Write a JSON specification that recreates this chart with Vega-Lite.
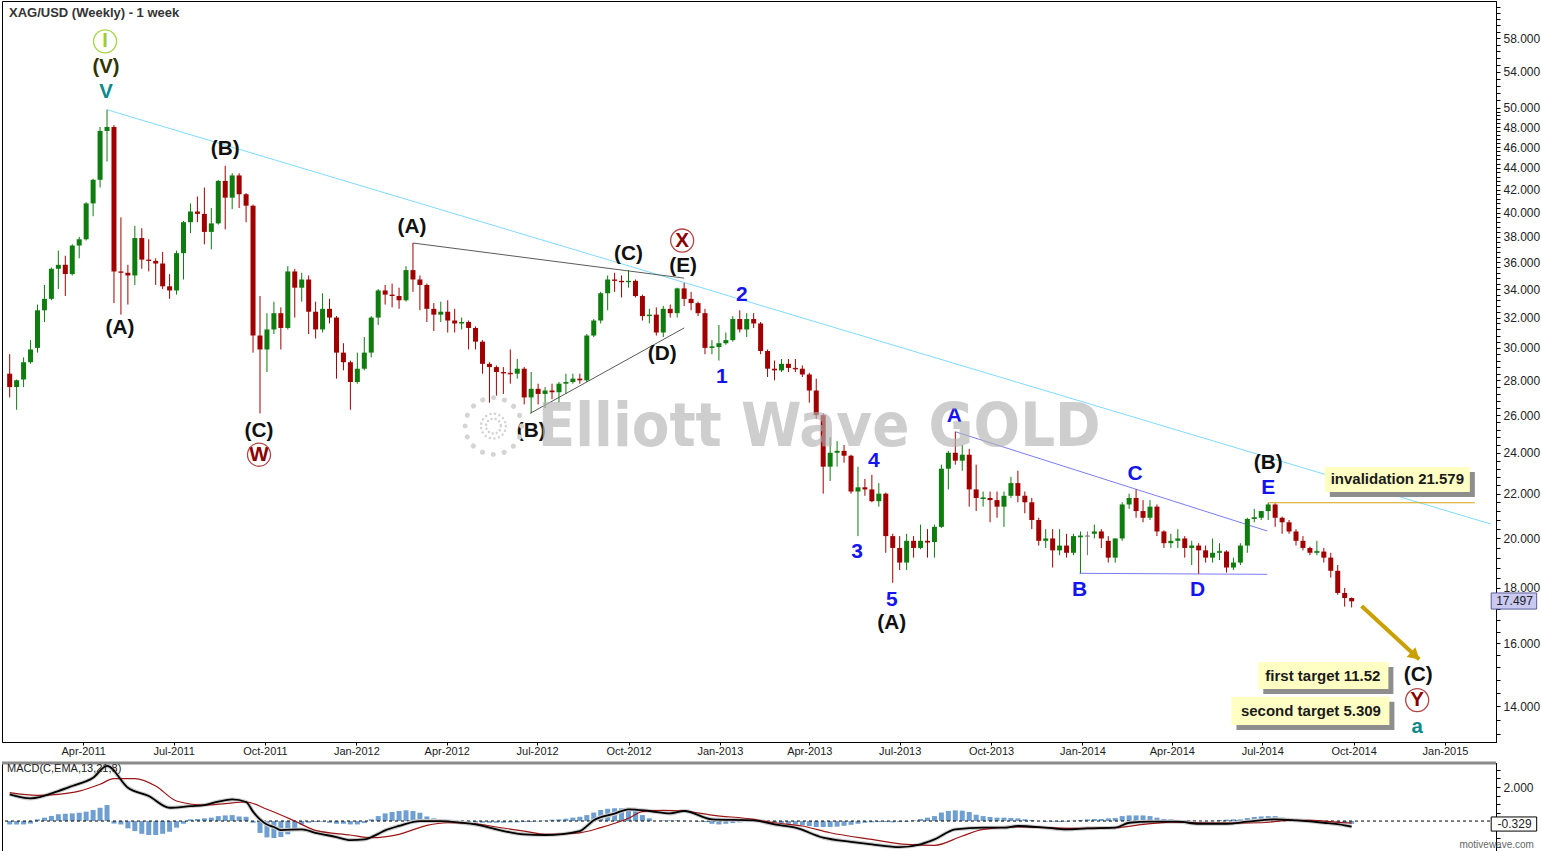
{
"$schema": "https://vega.github.io/schema/vega-lite/v6.json",
"padding": 0,
"background": "#ffffff",
"spacing": 0,
"config": {"view": {"stroke": "#000000", "strokeWidth": 1}, "font": "Liberation Sans", "axis": {"grid": false, "labelFont": "Liberation Sans", "domainColor": "#000000", "tickColor": "#000000"}},
"datasets": {
"candles": [
{"d":"2011-01-17","o":28.4,"h":29.6,"l":27.0,"c":27.6,"m":-0.2},
{"d":"2011-01-24","o":27.6,"h":28.05,"l":26.3,"c":28.0,"m":-0.2},
{"d":"2011-01-31","o":28.05,"h":29.4,"l":27.6,"c":29.1,"m":-0.2},
{"d":"2011-02-07","o":29.1,"h":30.5,"l":29.0,"c":29.9,"m":-0.15},
{"d":"2011-02-14","o":30.0,"h":32.9,"l":29.7,"c":32.5,"m":0.1},
{"d":"2011-02-21","o":32.5,"h":34.3,"l":31.7,"c":33.3,"m":0.2},
{"d":"2011-02-28","o":33.3,"h":35.6,"l":33.2,"c":35.5,"m":0.3},
{"d":"2011-03-07","o":35.5,"h":36.9,"l":34.0,"c":35.8,"m":0.4},
{"d":"2011-03-14","o":35.8,"h":36.5,"l":33.5,"c":35.1,"m":0.43},
{"d":"2011-03-21","o":35.1,"h":37.4,"l":35.0,"c":37.3,"m":0.45},
{"d":"2011-03-28","o":37.3,"h":38.0,"l":36.3,"c":37.8,"m":0.49},
{"d":"2011-04-04","o":37.8,"h":40.9,"l":37.7,"c":40.8,"m":0.55},
{"d":"2011-04-11","o":40.8,"h":43.0,"l":39.7,"c":42.9,"m":0.65},
{"d":"2011-04-18","o":42.9,"h":48.0,"l":42.2,"c":47.6,"m":0.78},
{"d":"2011-04-25","o":47.6,"h":49.8,"l":44.6,"c":48.0,"m":0.94},
{"d":"2011-05-02","o":48.0,"h":48.2,"l":33.0,"c":35.3,"m":-0.15},
{"d":"2011-05-09","o":35.3,"h":39.6,"l":32.2,"c":35.2,"m":-0.2},
{"d":"2011-05-16","o":35.2,"h":35.8,"l":32.9,"c":35.0,"m":-0.43},
{"d":"2011-05-23","o":35.0,"h":38.9,"l":34.3,"c":37.9,"m":-0.59},
{"d":"2011-05-30","o":37.9,"h":38.7,"l":35.5,"c":36.2,"m":-0.75},
{"d":"2011-06-06","o":36.2,"h":37.8,"l":35.3,"c":36.1,"m":-0.82},
{"d":"2011-06-13","o":36.1,"h":36.3,"l":34.3,"c":35.9,"m":-0.82},
{"d":"2011-06-20","o":35.9,"h":36.8,"l":34.0,"c":34.2,"m":-0.75},
{"d":"2011-06-27","o":34.2,"h":35.1,"l":33.3,"c":33.9,"m":-0.63},
{"d":"2011-07-04","o":33.9,"h":36.9,"l":33.6,"c":36.7,"m":-0.39},
{"d":"2011-07-11","o":36.7,"h":39.3,"l":34.7,"c":39.2,"m":-0.16},
{"d":"2011-07-18","o":39.2,"h":40.8,"l":38.3,"c":40.1,"m":0.1},
{"d":"2011-07-25","o":40.1,"h":41.4,"l":39.2,"c":39.9,"m":0.12},
{"d":"2011-08-01","o":39.9,"h":42.2,"l":37.4,"c":38.4,"m":0.16},
{"d":"2011-08-08","o":38.4,"h":40.4,"l":37.0,"c":39.1,"m":0.2},
{"d":"2011-08-15","o":39.1,"h":42.9,"l":39.0,"c":42.8,"m":0.29},
{"d":"2011-08-22","o":42.8,"h":44.2,"l":38.6,"c":41.3,"m":0.33},
{"d":"2011-08-29","o":41.3,"h":43.5,"l":40.3,"c":43.3,"m":0.35},
{"d":"2011-09-05","o":43.3,"h":43.5,"l":40.4,"c":41.6,"m":0.27},
{"d":"2011-09-12","o":41.6,"h":41.7,"l":39.2,"c":40.6,"m":0.25},
{"d":"2011-09-19","o":40.6,"h":40.7,"l":29.7,"c":30.8,"m":-0.1},
{"d":"2011-09-26","o":30.8,"h":33.5,"l":26.1,"c":29.9,"m":-0.7},
{"d":"2011-10-03","o":29.9,"h":32.3,"l":28.5,"c":31.2,"m":-0.96},
{"d":"2011-10-10","o":31.2,"h":33.1,"l":30.9,"c":32.3,"m":-1.0},
{"d":"2011-10-17","o":32.3,"h":32.7,"l":29.9,"c":31.3,"m":-0.94},
{"d":"2011-10-24","o":31.3,"h":35.7,"l":31.2,"c":35.3,"m":-0.78},
{"d":"2011-10-31","o":35.3,"h":35.5,"l":32.0,"c":34.1,"m":-0.49},
{"d":"2011-11-07","o":34.1,"h":35.2,"l":33.1,"c":34.7,"m":-0.2},
{"d":"2011-11-14","o":34.7,"h":35.0,"l":30.9,"c":32.4,"m":-0.1},
{"d":"2011-11-21","o":32.4,"h":33.1,"l":30.6,"c":31.2,"m":-0.06},
{"d":"2011-11-28","o":31.2,"h":33.7,"l":31.0,"c":32.6,"m":-0.04},
{"d":"2011-12-05","o":32.6,"h":33.3,"l":31.6,"c":32.0,"m":-0.1},
{"d":"2011-12-12","o":32.0,"h":32.1,"l":28.1,"c":29.7,"m":-0.16},
{"d":"2011-12-19","o":29.7,"h":30.3,"l":28.6,"c":29.1,"m":-0.16},
{"d":"2011-12-26","o":29.1,"h":29.2,"l":26.3,"c":27.9,"m":-0.2},
{"d":"2012-01-02","o":27.9,"h":29.7,"l":27.8,"c":28.7,"m":-0.2},
{"d":"2012-01-09","o":28.7,"h":30.7,"l":28.6,"c":29.7,"m":-0.12},
{"d":"2012-01-16","o":29.7,"h":32.1,"l":29.4,"c":32.0,"m":0.1},
{"d":"2012-01-23","o":32.0,"h":34.0,"l":31.5,"c":33.9,"m":0.29},
{"d":"2012-01-30","o":33.9,"h":34.3,"l":32.9,"c":33.6,"m":0.45},
{"d":"2012-02-06","o":33.6,"h":34.4,"l":32.7,"c":33.5,"m":0.53},
{"d":"2012-02-13","o":33.5,"h":34.1,"l":32.6,"c":33.2,"m":0.59},
{"d":"2012-02-20","o":33.2,"h":35.7,"l":33.1,"c":35.4,"m":0.63},
{"d":"2012-02-27","o":35.4,"h":37.5,"l":33.8,"c":34.7,"m":0.59},
{"d":"2012-03-05","o":34.7,"h":35.0,"l":32.5,"c":34.3,"m":0.49},
{"d":"2012-03-12","o":34.3,"h":34.4,"l":31.7,"c":32.6,"m":0.27},
{"d":"2012-03-19","o":32.6,"h":33.0,"l":31.1,"c":32.2,"m":0.16},
{"d":"2012-03-26","o":32.2,"h":33.1,"l":31.7,"c":32.4,"m":0.06},
{"d":"2012-04-02","o":32.4,"h":33.2,"l":31.0,"c":31.8,"m":-0.04},
{"d":"2012-04-09","o":31.8,"h":32.6,"l":31.0,"c":31.6,"m":-0.06},
{"d":"2012-04-16","o":31.6,"h":32.0,"l":31.2,"c":31.7,"m":-0.08},
{"d":"2012-04-23","o":31.7,"h":31.8,"l":29.9,"c":31.3,"m":-0.1},
{"d":"2012-04-30","o":31.3,"h":31.4,"l":29.9,"c":30.4,"m":-0.1},
{"d":"2012-05-07","o":30.4,"h":30.5,"l":28.4,"c":29.0,"m":-0.1},
{"d":"2012-05-14","o":29.0,"h":29.1,"l":26.7,"c":28.8,"m":-0.1},
{"d":"2012-05-21","o":28.8,"h":28.9,"l":27.1,"c":28.5,"m":-0.1},
{"d":"2012-05-28","o":28.5,"h":28.8,"l":27.2,"c":28.45,"m":-0.1},
{"d":"2012-06-04","o":28.45,"h":29.9,"l":27.8,"c":28.4,"m":-0.08},
{"d":"2012-06-11","o":28.4,"h":29.3,"l":28.1,"c":28.7,"m":-0.08},
{"d":"2012-06-18","o":28.7,"h":28.8,"l":26.6,"c":27.0,"m":-0.06},
{"d":"2012-06-25","o":27.0,"h":28.5,"l":26.1,"c":27.5,"m":-0.06},
{"d":"2012-07-02","o":27.5,"h":27.8,"l":26.6,"c":27.2,"m":-0.02},
{"d":"2012-07-09","o":27.2,"h":27.6,"l":26.4,"c":27.4,"m":0.02},
{"d":"2012-07-16","o":27.4,"h":27.8,"l":26.9,"c":27.3,"m":0.08},
{"d":"2012-07-23","o":27.3,"h":27.9,"l":26.7,"c":27.8,"m":0.1},
{"d":"2012-07-30","o":27.8,"h":28.4,"l":27.2,"c":27.9,"m":0.14},
{"d":"2012-08-06","o":27.9,"h":28.4,"l":27.8,"c":28.1,"m":0.2},
{"d":"2012-08-13","o":28.1,"h":28.4,"l":27.8,"c":28.0,"m":0.25},
{"d":"2012-08-20","o":28.0,"h":30.9,"l":27.9,"c":30.8,"m":0.35},
{"d":"2012-08-27","o":30.8,"h":31.9,"l":30.7,"c":31.8,"m":0.5},
{"d":"2012-09-03","o":31.8,"h":33.8,"l":31.6,"c":33.7,"m":0.65},
{"d":"2012-09-10","o":33.7,"h":35.0,"l":32.5,"c":34.7,"m":0.72},
{"d":"2012-09-17","o":34.7,"h":35.2,"l":33.8,"c":34.6,"m":0.75},
{"d":"2012-09-24","o":34.6,"h":35.0,"l":33.4,"c":34.5,"m":0.75},
{"d":"2012-10-01","o":34.5,"h":35.4,"l":34.1,"c":34.6,"m":0.72},
{"d":"2012-10-08","o":34.6,"h":34.7,"l":33.4,"c":33.5,"m":0.6},
{"d":"2012-10-15","o":33.5,"h":33.6,"l":31.8,"c":32.1,"m":0.35},
{"d":"2012-10-22","o":32.1,"h":32.6,"l":31.6,"c":32.2,"m":0.16},
{"d":"2012-10-29","o":32.2,"h":32.7,"l":30.8,"c":31.0,"m":0.0},
{"d":"2012-11-05","o":31.0,"h":32.8,"l":30.7,"c":32.6,"m":0.04},
{"d":"2012-11-12","o":32.6,"h":32.9,"l":32.0,"c":32.3,"m":0.04},
{"d":"2012-11-19","o":32.3,"h":34.1,"l":32.0,"c":34.05,"m":0.04},
{"d":"2012-11-26","o":34.05,"h":34.45,"l":32.8,"c":33.3,"m":0.02},
{"d":"2012-12-03","o":33.3,"h":33.8,"l":32.5,"c":33.0,"m":0.0},
{"d":"2012-12-10","o":33.0,"h":33.1,"l":32.1,"c":32.3,"m":-0.04},
{"d":"2012-12-17","o":32.3,"h":32.6,"l":29.6,"c":30.0,"m":-0.06},
{"d":"2012-12-24","o":30.0,"h":30.5,"l":29.6,"c":30.1,"m":-0.16},
{"d":"2012-12-31","o":30.05,"h":31.5,"l":29.2,"c":30.3,"m":-0.2},
{"d":"2013-01-07","o":30.3,"h":31.0,"l":30.2,"c":30.5,"m":-0.16},
{"d":"2013-01-14","o":30.5,"h":32.1,"l":30.4,"c":31.9,"m":-0.12},
{"d":"2013-01-21","o":31.9,"h":32.5,"l":31.0,"c":31.2,"m":-0.08},
{"d":"2013-01-28","o":31.2,"h":32.3,"l":30.7,"c":31.9,"m":-0.06},
{"d":"2013-02-04","o":31.9,"h":32.3,"l":31.3,"c":31.6,"m":-0.04},
{"d":"2013-02-11","o":31.6,"h":31.7,"l":29.6,"c":29.8,"m":-0.04},
{"d":"2013-02-18","o":29.8,"h":29.9,"l":28.2,"c":28.7,"m":-0.06},
{"d":"2013-02-25","o":28.7,"h":29.2,"l":28.0,"c":28.6,"m":-0.1},
{"d":"2013-03-04","o":28.6,"h":29.3,"l":28.5,"c":29.0,"m":-0.12},
{"d":"2013-03-11","o":29.0,"h":29.3,"l":28.5,"c":28.75,"m":-0.16},
{"d":"2013-03-18","o":28.75,"h":29.3,"l":28.5,"c":28.7,"m":-0.2},
{"d":"2013-03-25","o":28.7,"h":28.9,"l":28.2,"c":28.35,"m":-0.25},
{"d":"2013-04-01","o":28.35,"h":28.45,"l":26.7,"c":27.4,"m":-0.3},
{"d":"2013-04-08","o":27.4,"h":28.1,"l":25.8,"c":26.0,"m":-0.35},
{"d":"2013-04-15","o":26.0,"h":26.1,"l":22.0,"c":23.3,"m":-0.35},
{"d":"2013-04-22","o":23.3,"h":24.8,"l":22.6,"c":24.0,"m":-0.35},
{"d":"2013-04-29","o":24.0,"h":24.6,"l":23.3,"c":24.1,"m":-0.33},
{"d":"2013-05-06","o":24.1,"h":24.4,"l":23.5,"c":23.85,"m":-0.28},
{"d":"2013-05-13","o":23.85,"h":23.9,"l":22.0,"c":22.1,"m":-0.22},
{"d":"2013-05-20","o":22.1,"h":23.3,"l":20.1,"c":22.3,"m":-0.16},
{"d":"2013-05-27","o":22.3,"h":22.7,"l":21.9,"c":22.2,"m":-0.1},
{"d":"2013-06-03","o":22.2,"h":22.9,"l":21.6,"c":21.65,"m":-0.08},
{"d":"2013-06-10","o":21.65,"h":22.5,"l":21.4,"c":22.0,"m":-0.06},
{"d":"2013-06-17","o":22.0,"h":22.05,"l":19.4,"c":20.1,"m":-0.06},
{"d":"2013-06-24","o":20.1,"h":20.2,"l":18.2,"c":19.6,"m":-0.08},
{"d":"2013-07-01","o":19.6,"h":20.1,"l":18.7,"c":19.0,"m":-0.06},
{"d":"2013-07-08","o":19.0,"h":20.2,"l":18.7,"c":19.9,"m":-0.04},
{"d":"2013-07-15","o":19.9,"h":20.1,"l":19.2,"c":19.6,"m":0.04},
{"d":"2013-07-22","o":19.6,"h":20.6,"l":19.55,"c":19.9,"m":0.12},
{"d":"2013-07-29","o":19.9,"h":20.4,"l":19.2,"c":19.85,"m":0.2},
{"d":"2013-08-05","o":19.85,"h":20.6,"l":19.2,"c":20.5,"m":0.29},
{"d":"2013-08-12","o":20.5,"h":23.4,"l":20.45,"c":23.2,"m":0.5},
{"d":"2013-08-19","o":23.2,"h":24.1,"l":22.2,"c":24.0,"m":0.59},
{"d":"2013-08-26","o":24.0,"h":25.1,"l":23.4,"c":23.6,"m":0.63},
{"d":"2013-09-02","o":23.6,"h":24.4,"l":23.1,"c":23.9,"m":0.61},
{"d":"2013-09-09","o":23.9,"h":24.2,"l":21.4,"c":22.2,"m":0.53},
{"d":"2013-09-16","o":22.2,"h":23.4,"l":21.2,"c":21.8,"m":0.37},
{"d":"2013-09-23","o":21.75,"h":22.1,"l":21.4,"c":21.8,"m":0.29},
{"d":"2013-09-30","o":21.8,"h":22.1,"l":20.7,"c":21.7,"m":0.24},
{"d":"2013-10-07","o":21.7,"h":22.1,"l":20.9,"c":21.4,"m":0.2},
{"d":"2013-10-14","o":21.4,"h":22.1,"l":20.5,"c":21.9,"m":0.2},
{"d":"2013-10-21","o":21.9,"h":22.8,"l":21.8,"c":22.5,"m":0.18},
{"d":"2013-10-28","o":22.5,"h":23.1,"l":21.6,"c":21.9,"m":0.16},
{"d":"2013-11-04","o":21.9,"h":22.1,"l":21.1,"c":21.6,"m":0.1},
{"d":"2013-11-11","o":21.6,"h":21.8,"l":20.4,"c":20.8,"m":0.06},
{"d":"2013-11-18","o":20.8,"h":20.9,"l":19.7,"c":19.9,"m":0.0},
{"d":"2013-11-25","o":19.9,"h":20.4,"l":19.6,"c":20.0,"m":-0.04},
{"d":"2013-12-02","o":20.0,"h":20.4,"l":18.8,"c":19.5,"m":-0.04},
{"d":"2013-12-09","o":19.5,"h":20.4,"l":19.3,"c":19.7,"m":-0.06},
{"d":"2013-12-16","o":19.7,"h":20.2,"l":19.2,"c":19.4,"m":-0.04},
{"d":"2013-12-23","o":19.4,"h":20.2,"l":19.3,"c":20.1,"m":0.02},
{"d":"2013-12-30","o":20.05,"h":20.3,"l":18.57,"c":20.1,"m":0.06},
{"d":"2014-01-06","o":20.1,"h":20.3,"l":19.3,"c":20.1,"m":0.1},
{"d":"2014-01-13","o":20.2,"h":20.6,"l":20.0,"c":20.3,"m":0.12},
{"d":"2014-01-20","o":20.3,"h":20.4,"l":19.6,"c":20.0,"m":0.12},
{"d":"2014-01-27","o":19.9,"h":20.1,"l":19.0,"c":19.2,"m":0.16},
{"d":"2014-02-03","o":19.2,"h":20.0,"l":19.0,"c":20.0,"m":0.18},
{"d":"2014-02-10","o":20.0,"h":21.6,"l":19.9,"c":21.5,"m":0.29},
{"d":"2014-02-17","o":21.5,"h":22.0,"l":21.3,"c":21.8,"m":0.33},
{"d":"2014-02-24","o":21.8,"h":22.2,"l":20.9,"c":21.2,"m":0.33},
{"d":"2014-03-03","o":21.2,"h":21.7,"l":20.7,"c":20.9,"m":0.33},
{"d":"2014-03-10","o":20.9,"h":21.7,"l":20.8,"c":21.4,"m":0.29},
{"d":"2014-03-17","o":21.4,"h":21.5,"l":20.1,"c":20.3,"m":0.2},
{"d":"2014-03-24","o":20.3,"h":20.35,"l":19.6,"c":19.8,"m":0.12},
{"d":"2014-03-31","o":19.8,"h":20.2,"l":19.6,"c":19.9,"m":0.1},
{"d":"2014-04-07","o":19.9,"h":20.4,"l":19.6,"c":20.0,"m":0.06},
{"d":"2014-04-14","o":20.0,"h":20.1,"l":19.2,"c":19.6,"m":0.04},
{"d":"2014-04-21","o":19.6,"h":19.9,"l":18.9,"c":19.7,"m":0.02},
{"d":"2014-04-28","o":19.7,"h":19.8,"l":18.55,"c":19.5,"m":0.0},
{"d":"2014-05-05","o":19.5,"h":19.7,"l":19.0,"c":19.2,"m":-0.02},
{"d":"2014-05-12","o":19.2,"h":20.0,"l":19.0,"c":19.4,"m":0.02},
{"d":"2014-05-19","o":19.4,"h":19.8,"l":19.1,"c":19.45,"m":0.06},
{"d":"2014-05-26","o":19.45,"h":19.5,"l":18.6,"c":18.8,"m":0.08},
{"d":"2014-06-02","o":18.8,"h":19.2,"l":18.7,"c":19.0,"m":0.1},
{"d":"2014-06-09","o":19.0,"h":19.8,"l":18.9,"c":19.7,"m":0.1},
{"d":"2014-06-16","o":19.7,"h":20.9,"l":19.4,"c":20.85,"m":0.18},
{"d":"2014-06-23","o":20.85,"h":21.3,"l":20.7,"c":20.9,"m":0.24},
{"d":"2014-06-30","o":20.9,"h":21.2,"l":20.8,"c":21.2,"m":0.27},
{"d":"2014-07-07","o":21.2,"h":21.579,"l":20.8,"c":21.5,"m":0.29},
{"d":"2014-07-14","o":21.5,"h":21.55,"l":20.5,"c":20.9,"m":0.29},
{"d":"2014-07-21","o":20.9,"h":20.95,"l":20.2,"c":20.7,"m":0.2},
{"d":"2014-07-28","o":20.7,"h":20.8,"l":20.2,"c":20.3,"m":0.14},
{"d":"2014-08-04","o":20.3,"h":20.4,"l":19.7,"c":19.9,"m":0.1},
{"d":"2014-08-11","o":19.9,"h":20.1,"l":19.5,"c":19.6,"m":0.06},
{"d":"2014-08-18","o":19.6,"h":19.65,"l":19.3,"c":19.4,"m":0.04},
{"d":"2014-08-25","o":19.4,"h":19.9,"l":19.3,"c":19.45,"m":0.02},
{"d":"2014-09-01","o":19.45,"h":19.6,"l":19.0,"c":19.2,"m":0.0},
{"d":"2014-09-08","o":19.2,"h":19.4,"l":18.4,"c":18.67,"m":-0.04},
{"d":"2014-09-15","o":18.67,"h":18.9,"l":17.74,"c":17.81,"m":-0.1},
{"d":"2014-09-22","o":17.81,"h":18.0,"l":17.3,"c":17.62,"m":-0.14},
{"d":"2014-09-29","o":17.62,"h":17.64,"l":17.27,"c":17.497,"m":-0.16}
],
"labels": [
{"d":"2011-04-23","p":57.6,"t":"I","deg":"grand"},
{"d":"2011-04-24","p":54.5,"t":"(V)","deg":"super"},
{"d":"2011-04-24","p":51.7,"t":"V","deg":"cycle"},
{"d":"2011-08-22","p":45.8,"t":"(B)","deg":"intermediate"},
{"d":"2011-05-08","p":31.3,"t":"(A)","deg":"intermediate"},
{"d":"2011-09-25","p":25.14,"t":"(C)","deg":"intermediate"},
{"d":"2011-09-25","p":23.9,"t":"W","deg":"primary"},
{"d":"2012-02-26","p":38.8,"t":"(A)","deg":"intermediate"},
{"d":"2012-10-01","p":36.6,"t":"(C)","deg":"intermediate"},
{"d":"2012-11-24","p":37.7,"t":"X","deg":"primary"},
{"d":"2012-11-25","p":35.7,"t":"(E)","deg":"intermediate"},
{"d":"2012-11-04","p":29.6,"t":"(D)","deg":"intermediate"},
{"d":"2012-06-25","p":25.14,"t":"(B)","deg":"intermediate"},
{"d":"2013-01-23","p":33.6,"t":"2","deg":"minor"},
{"d":"2013-01-03","p":28.2,"t":"1","deg":"minor"},
{"d":"2013-06-05","p":23.6,"t":"4","deg":"minor"},
{"d":"2013-05-19","p":19.43,"t":"3","deg":"minor"},
{"d":"2013-06-23","p":17.55,"t":"5","deg":"minor"},
{"d":"2013-06-23","p":16.7,"t":"(A)","deg":"intermediate"},
{"d":"2013-08-25","p":25.95,"t":"A","deg":"minor"},
{"d":"2013-12-29","p":17.92,"t":"B","deg":"minor"},
{"d":"2014-02-23","p":22.94,"t":"C","deg":"minor"},
{"d":"2014-04-27","p":17.92,"t":"D","deg":"minor"},
{"d":"2014-07-07","p":23.49,"t":"(B)","deg":"intermediate"},
{"d":"2014-07-07","p":22.27,"t":"E","deg":"minor"},
{"d":"2014-12-05","p":14.96,"t":"(C)","deg":"intermediate"},
{"d":"2014-12-04","p":14.18,"t":"Y","deg":"primary"},
{"d":"2014-12-04","p":13.39,"t":"a","deg":"cycle"}
],
"segs": [
{"d1":"2011-04-25","p1":49.8,"d2":"2015-02-16T07:00:00Z","p2":20.62,"k":"trend"},
{"d1":"2012-02-27","p1":37.5,"d2":"2012-11-26","p2":34.8,"k":"tri"},
{"d1":"2012-06-24","p1":26.1,"d2":"2012-11-26","p2":31.3,"k":"tri"},
{"d1":"2013-08-26","p1":25.1,"d2":"2014-07-06","p2":20.32,"k":"minor"},
{"d1":"2013-12-29","p1":18.57,"d2":"2014-07-06","p2":18.53,"k":"minor"},
{"d1":"2014-07-07","p1":21.579,"d2":"2015-01-31","p2":21.579,"k":"inval"}
],
"arrow": [{"d1":"2014-10-09","p1":17.32,"d2":"2014-12-06","p2":15.47,"hd":"2014-12-02","hp":15.58}],
"boxes": [
{"d1":"2014-09-02","d2":"2015-01-26","p1":23.29,"p2":22.08,"t":"invalidation 21.579","td":"2014-11-14","tp":22.7},
{"d1":"2014-06-27","d2":"2014-11-05","p1":15.38,"p2":14.52,"t":"first target 11.52","td":"2014-08-31","tp":14.93},
{"d1":"2014-05-31","d2":"2014-11-06","p1":14.28,"p2":13.45,"t":"second target 5.309","td":"2014-08-19","tp":13.86}
],
"ptag": [{"d1":"2015-02-16T12:00:00Z","d2":"2015-04-03T07:00:00Z","p1":17.81,"p2":17.21,"td":"2015-03-12","tp":17.497,"t":"17.497"}],
"wm": [{"d":"2013-04-11","p":25.3,"t":"Elliott Wave GOLD"}],
"logo": [{"d":"2012-05-18","p":25.4}],
"macd": [
{"d":"2011-01-17","v":1.57,"s":"m"},{"d":"2011-02-07","v":1.33,"s":"m"},{"d":"2011-03-07","v":1.76,"s":"m"},{"d":"2011-03-21","v":2.06,"s":"m"},{"d":"2011-04-11","v":2.55,"s":"m"},{"d":"2011-04-25","v":3.24,"s":"m"},{"d":"2011-05-16","v":1.96,"s":"m"},{"d":"2011-06-06","v":1.47,"s":"m"},{"d":"2011-06-27","v":0.78,"s":"m"},{"d":"2011-07-18","v":0.88,"s":"m"},{"d":"2011-08-01","v":0.94,"s":"m"},{"d":"2011-08-15","v":1.14,"s":"m"},{"d":"2011-08-29","v":1.27,"s":"m"},{"d":"2011-09-12","v":1.12,"s":"m"},{"d":"2011-09-19","v":0.55,"s":"m"},{"d":"2011-09-26","v":0.1,"s":"m"},{"d":"2011-10-03","v":-0.2,"s":"m"},{"d":"2011-10-10","v":-0.35,"s":"m"},{"d":"2011-10-17","v":-0.53,"s":"m"},{"d":"2011-11-07","v":-0.49,"s":"m"},{"d":"2011-11-21","v":-0.69,"s":"m"},{"d":"2011-12-12","v":-0.94,"s":"m"},{"d":"2011-12-26","v":-1.12,"s":"m"},{"d":"2012-01-09","v":-1.08,"s":"m"},{"d":"2012-01-23","v":-0.75,"s":"m"},{"d":"2012-01-30","v":-0.55,"s":"m"},{"d":"2012-02-13","v":-0.29,"s":"m"},{"d":"2012-03-05","v":0.0,"s":"m"},{"d":"2012-03-26","v":0.0,"s":"m"},{"d":"2012-04-16","v":-0.1,"s":"m"},{"d":"2012-04-30","v":-0.2,"s":"m"},{"d":"2012-05-21","v":-0.49,"s":"m"},{"d":"2012-06-18","v":-0.78,"s":"m"},{"d":"2012-07-09","v":-0.82,"s":"m"},{"d":"2012-08-13","v":-0.59,"s":"m"},{"d":"2012-08-20","v":-0.3,"s":"m"},{"d":"2012-08-27","v":0.04,"s":"m"},{"d":"2012-09-17","v":0.43,"s":"m"},{"d":"2012-10-01","v":0.69,"s":"m"},{"d":"2012-10-22","v":0.59,"s":"m"},{"d":"2012-11-12","v":0.45,"s":"m"},{"d":"2012-11-26","v":0.59,"s":"m"},{"d":"2012-12-24","v":0.1,"s":"m"},{"d":"2013-02-04","v":0.04,"s":"m"},{"d":"2013-02-25","v":-0.2,"s":"m"},{"d":"2013-03-18","v":-0.39,"s":"m"},{"d":"2013-04-15","v":-0.98,"s":"m"},{"d":"2013-05-13","v":-1.22,"s":"m"},{"d":"2013-06-03","v":-1.37,"s":"m"},{"d":"2013-07-01","v":-1.53,"s":"m"},{"d":"2013-07-22","v":-1.37,"s":"m"},{"d":"2013-08-05","v":-1.08,"s":"m"},{"d":"2013-08-26","v":-0.49,"s":"m"},{"d":"2013-09-23","v":-0.39,"s":"m"},{"d":"2013-10-14","v":-0.39,"s":"m"},{"d":"2013-10-28","v":-0.29,"s":"m"},{"d":"2013-11-25","v":-0.39,"s":"m"},{"d":"2013-12-16","v":-0.49,"s":"m"},{"d":"2014-01-06","v":-0.43,"s":"m"},{"d":"2014-02-03","v":-0.39,"s":"m"},{"d":"2014-02-17","v":-0.1,"s":"m"},{"d":"2014-03-10","v":-0.04,"s":"m"},{"d":"2014-04-07","v":-0.04,"s":"m"},{"d":"2014-04-28","v":-0.16,"s":"m"},{"d":"2014-05-26","v":-0.16,"s":"m"},{"d":"2014-06-16","v":-0.04,"s":"m"},{"d":"2014-07-14","v":0.1,"s":"m"},{"d":"2014-08-04","v":0.04,"s":"m"},{"d":"2014-09-01","v":-0.1,"s":"m"},{"d":"2014-09-22","v":-0.25,"s":"m"},{"d":"2014-09-29","v":-0.33,"s":"m"},
{"d":"2011-01-17","v":1.67,"s":"s"},{"d":"2011-02-14","v":1.51,"s":"s"},{"d":"2011-03-07","v":1.57,"s":"s"},{"d":"2011-03-28","v":1.76,"s":"s"},{"d":"2011-04-18","v":2.16,"s":"s"},{"d":"2011-05-02","v":2.49,"s":"s"},{"d":"2011-05-23","v":2.49,"s":"s"},{"d":"2011-06-13","v":2.06,"s":"s"},{"d":"2011-07-04","v":1.18,"s":"s"},{"d":"2011-08-01","v":0.94,"s":"s"},{"d":"2011-08-22","v":1.02,"s":"s"},{"d":"2011-09-12","v":1.12,"s":"s"},{"d":"2011-10-03","v":0.69,"s":"s"},{"d":"2011-10-31","v":0.0,"s":"s"},{"d":"2011-11-21","v":-0.55,"s":"s"},{"d":"2011-12-26","v":-0.82,"s":"s"},{"d":"2012-01-16","v":-0.98,"s":"s"},{"d":"2012-02-13","v":-0.78,"s":"s"},{"d":"2012-03-12","v":-0.25,"s":"s"},{"d":"2012-04-02","v":-0.1,"s":"s"},{"d":"2012-04-30","v":-0.16,"s":"s"},{"d":"2012-05-21","v":-0.35,"s":"s"},{"d":"2012-06-18","v":-0.59,"s":"s"},{"d":"2012-07-09","v":-0.78,"s":"s"},{"d":"2012-08-13","v":-0.69,"s":"s"},{"d":"2012-09-03","v":-0.39,"s":"s"},{"d":"2012-10-01","v":0.16,"s":"s"},{"d":"2012-10-15","v":0.55,"s":"s"},{"d":"2012-11-05","v":0.63,"s":"s"},{"d":"2012-11-26","v":0.59,"s":"s"},{"d":"2012-12-24","v":0.35,"s":"s"},{"d":"2013-02-04","v":0.1,"s":"s"},{"d":"2013-02-25","v":-0.1,"s":"s"},{"d":"2013-03-25","v":-0.29,"s":"s"},{"d":"2013-04-22","v":-0.69,"s":"s"},{"d":"2013-06-03","v":-1.08,"s":"s"},{"d":"2013-07-08","v":-1.37,"s":"s"},{"d":"2013-08-05","v":-1.43,"s":"s"},{"d":"2013-09-02","v":-0.88,"s":"s"},{"d":"2013-09-23","v":-0.49,"s":"s"},{"d":"2013-10-28","v":-0.35,"s":"s"},{"d":"2013-11-25","v":-0.39,"s":"s"},{"d":"2013-12-23","v":-0.43,"s":"s"},{"d":"2014-02-03","v":-0.39,"s":"s"},{"d":"2014-03-03","v":-0.2,"s":"s"},{"d":"2014-03-31","v":-0.06,"s":"s"},{"d":"2014-04-28","v":-0.1,"s":"s"},{"d":"2014-06-02","v":-0.12,"s":"s"},{"d":"2014-06-30","v":-0.1,"s":"s"},{"d":"2014-07-28","v":0.04,"s":"s"},{"d":"2014-08-18","v":0.04,"s":"s"},{"d":"2014-09-22","v":-0.1,"s":"s"},{"d":"2014-09-29","v":-0.12,"s":"s"}
],
"mtag": [{"d1":"2015-02-16T12:00:00Z","d2":"2015-04-03T07:00:00Z","v1":0.24,"v2":-0.59,"td":"2015-03-12","tv":-0.18,"t":"-0.329"}],
"mw": [{"d":"2015-02-22","v":-1.4,"t":"motivewave.com"}]
},
"vconcat": [
{
"width": 1494,
"height": 741,
"title": {"text": "XAG/USD (Weekly) - 1 week", "anchor": "start", "frame": "group", "offset": -19, "dx": 7, "fontSize": 13, "fontWeight": "bold", "color": "#333333", "font": "Liberation Sans"},
"resolve": {"scale": {"color": "independent", "size": "independent"}},
"layer": [
{"data": {"name": "segs"}, "mark": {"type": "rule", "strokeWidth": 1},
 "encoding": {
  "x": {"field": "d1", "type": "temporal", "title": null, "scale": {"type": "utc", "domain": [{"year":2011,"month":1,"date":14,"hours":7,"minutes":12,"utc":true},{"year":2015,"month":2,"date":16,"hours":7,"minutes":12,"utc":true}]},
   "axis": {"values": [{"year":2011,"month":4,"date":1,"utc":true},{"year":2011,"month":7,"date":1,"utc":true},{"year":2011,"month":10,"date":1,"utc":true},{"year":2012,"month":1,"date":1,"utc":true},{"year":2012,"month":4,"date":1,"utc":true},{"year":2012,"month":7,"date":1,"utc":true},{"year":2012,"month":10,"date":1,"utc":true},{"year":2013,"month":1,"date":1,"utc":true},{"year":2013,"month":4,"date":1,"utc":true},{"year":2013,"month":7,"date":1,"utc":true},{"year":2013,"month":10,"date":1,"utc":true},{"year":2014,"month":1,"date":1,"utc":true},{"year":2014,"month":4,"date":1,"utc":true},{"year":2014,"month":7,"date":1,"utc":true},{"year":2014,"month":10,"date":1,"utc":true},{"year":2015,"month":1,"date":1,"utc":true}],
    "labelExpr": "utcFormat(datum.value, '%b-%Y')", "labelFontSize": 11, "labelColor": "#1a1a1a", "tickSize": 3, "labelPadding": 0, "labelFlush": false, "title": null}},
  "x2": {"field": "d2"},
  "y": {"field": "p1", "type": "quantitative", "title": null, "scale": {"type": "log", "domain": [12.97, 62.76], "nice": false},
   "axis": {"orient": "right", "title": null, "labelFontSize": 12, "labelColor": "#222222", "tickSize": 4, "labelPadding": 3, "labelOverlap": false,
    "values": [13.2,13.6,14,14.4,14.8,15.2,15.6,16,16.4,16.8,17.2,17.6,18,18.4,18.8,19.2,19.6,20,20.4,20.8,21.2,21.6,22,22.4,22.8,23.2,23.6,24,24.4,24.8,25.2,25.6,26,26.4,26.8,27.2,27.6,28,28.4,28.8,29.2,29.6,30,30.4,30.8,31.2,31.6,32,32.4,32.8,33.2,33.6,34,34.4,34.8,35.2,35.6,36,36.4,36.8,37.2,37.6,38,38.4,38.8,39.2,39.6,40,40.4,40.8,41.2,41.6,42,42.4,42.8,43.2,43.6,44,44.4,44.8,45.2,45.6,46,46.4,46.8,47.2,47.6,48,48.4,48.8,49.2,49.6,50,50.8,51.6,52.4,53.2,54,54.8,55.6,56.4,57.2,58,58.8,59.6,60.4,61.2,62],
    "labelExpr": "indexof([14,16,18,20,22,24,26,28,30,32,34,36,38,40,42,44,46,48,50,54,58], datum.value) >= 0 ? format(datum.value, '.3f') : ''"}},
  "y2": {"field": "p2"},
  "color": {"field": "k", "type": "nominal", "scale": {"domain": ["trend","tri","minor","inval"], "range": ["#7FDBFF","#5A5A5A","#7C7CF2","#D6A30C"]}, "legend": null}
 }},
{"data": {"name": "candles"}, "mark": {"type": "rule", "strokeWidth": 1},
 "encoding": {
  "x": {"field": "d", "type": "temporal", "title": null, "scale": {"type": "utc", "domain": [{"year":2011,"month":1,"date":14,"hours":7,"minutes":12,"utc":true},{"year":2015,"month":2,"date":16,"hours":7,"minutes":12,"utc":true}]}},
  "y": {"field": "l", "type": "quantitative", "title": null, "scale": {"type": "log", "domain": [12.97, 62.76], "nice": false}},
  "y2": {"field": "h"},
  "color": {"condition": [{"test": "datum.c > datum.o", "value": "#0E7C0E"}, {"test": "datum.c == datum.o", "value": "#707070"}], "value": "#A00000"}
 }},
{"data": {"name": "candles"}, "mark": {"type": "bar", "width": 5},
 "encoding": {
  "x": {"field": "d", "type": "temporal", "title": null, "scale": {"type": "utc", "domain": [{"year":2011,"month":1,"date":14,"hours":7,"minutes":12,"utc":true},{"year":2015,"month":2,"date":16,"hours":7,"minutes":12,"utc":true}]}},
  "y": {"field": "o", "type": "quantitative", "title": null, "scale": {"type": "log", "domain": [12.97, 62.76], "nice": false}},
  "y2": {"field": "c"},
  "color": {"condition": [{"test": "datum.c > datum.o", "value": "#0E7C0E"}, {"test": "datum.c == datum.o", "value": "#707070"}], "value": "#A00000"}
 }},
{"data": {"name": "candles"}, "transform": [{"filter": "abs(datum.o - datum.c) < 0.08"}], "mark": {"type": "tick", "orient": "horizontal", "size": 5, "thickness": 1.5},
 "encoding": {
  "x": {"field": "d", "type": "temporal", "title": null, "scale": {"type": "utc", "domain": [{"year":2011,"month":1,"date":14,"hours":7,"minutes":12,"utc":true},{"year":2015,"month":2,"date":16,"hours":7,"minutes":12,"utc":true}]}},
  "y": {"field": "c", "type": "quantitative", "title": null, "scale": {"type": "log", "domain": [12.97, 62.76], "nice": false}},
  "color": {"condition": [{"test": "datum.c > datum.o", "value": "#0E7C0E"}, {"test": "datum.c == datum.o", "value": "#707070"}], "value": "#A00000"}
 }},
{"data": {"name": "arrow"}, "mark": {"type": "rule", "strokeWidth": 4, "color": "#C9A000"},
 "encoding": {
  "x": {"field": "d1", "type": "temporal", "title": null, "scale": {"type": "utc", "domain": [{"year":2011,"month":1,"date":14,"hours":7,"minutes":12,"utc":true},{"year":2015,"month":2,"date":16,"hours":7,"minutes":12,"utc":true}]}},
  "x2": {"field": "d2"},
  "y": {"field": "p1", "type": "quantitative", "title": null, "scale": {"type": "log", "domain": [12.97, 62.76], "nice": false}},
  "y2": {"field": "p2"}
 }},
{"data": {"name": "arrow"}, "mark": {"type": "point", "shape": "triangle-right", "angle": 42, "size": 170, "filled": true, "color": "#C9A000", "opacity": 1},
 "encoding": {
  "x": {"field": "hd", "type": "temporal", "title": null, "scale": {"type": "utc", "domain": [{"year":2011,"month":1,"date":14,"hours":7,"minutes":12,"utc":true},{"year":2015,"month":2,"date":16,"hours":7,"minutes":12,"utc":true}]}},
  "y": {"field": "hp", "type": "quantitative", "title": null, "scale": {"type": "log", "domain": [12.97, 62.76], "nice": false}}
 }},
{"data": {"name": "labels"}, "mark": {"type": "text", "font": "Liberation Sans", "fontWeight": "bold", "align": "center", "baseline": "middle"},
 "encoding": {
  "x": {"field": "d", "type": "temporal", "title": null, "scale": {"type": "utc", "domain": [{"year":2011,"month":1,"date":14,"hours":7,"minutes":12,"utc":true},{"year":2015,"month":2,"date":16,"hours":7,"minutes":12,"utc":true}]}},
  "y": {"field": "p", "type": "quantitative", "title": null, "scale": {"type": "log", "domain": [12.97, 62.76], "nice": false}},
  "text": {"field": "t"},
  "color": {"field": "deg", "type": "nominal", "scale": {"domain": ["grand","super","cycle","primary","intermediate","minor"], "range": ["#9ACD32","#333300","#0A8A8A","#8B0000","#111111","#1414F0"]}, "legend": null},
  "size": {"field": "deg", "type": "ordinal", "scale": {"domain": ["grand","super","cycle","primary","intermediate","minor"], "range": [20,21,21,20,18,17]}, "legend": null}
 }},
{"data": {"name": "labels"}, "transform": [{"filter": "datum.deg == 'grand' || datum.deg == 'primary'"}], "mark": {"type": "point", "shape": "circle", "filled": false, "size": 530, "strokeWidth": 1.3, "opacity": 1},
 "encoding": {
  "x": {"field": "d", "type": "temporal", "title": null, "scale": {"type": "utc", "domain": [{"year":2011,"month":1,"date":14,"hours":7,"minutes":12,"utc":true},{"year":2015,"month":2,"date":16,"hours":7,"minutes":12,"utc":true}]}},
  "y": {"field": "p", "type": "quantitative", "title": null, "scale": {"type": "log", "domain": [12.97, 62.76], "nice": false}},
  "color": {"field": "deg", "type": "nominal", "scale": {"domain": ["grand","primary"], "range": ["#A6D64A","#B04545"]}, "legend": null}
 }},
{"data": {"name": "boxes"}, "mark": {"type": "rect", "fill": "#8E8E8E", "xOffset": 5, "x2Offset": 5, "yOffset": 5, "y2Offset": 5},
 "encoding": {
  "x": {"field": "d1", "type": "temporal", "title": null, "scale": {"type": "utc", "domain": [{"year":2011,"month":1,"date":14,"hours":7,"minutes":12,"utc":true},{"year":2015,"month":2,"date":16,"hours":7,"minutes":12,"utc":true}]}},
  "x2": {"field": "d2"},
  "y": {"field": "p1", "type": "quantitative", "title": null, "scale": {"type": "log", "domain": [12.97, 62.76], "nice": false}},
  "y2": {"field": "p2"}
 }},
{"data": {"name": "boxes"}, "mark": {"type": "rect", "fill": "#FFFFC4"},
 "encoding": {
  "x": {"field": "d1", "type": "temporal", "title": null, "scale": {"type": "utc", "domain": [{"year":2011,"month":1,"date":14,"hours":7,"minutes":12,"utc":true},{"year":2015,"month":2,"date":16,"hours":7,"minutes":12,"utc":true}]}},
  "x2": {"field": "d2"},
  "y": {"field": "p1", "type": "quantitative", "title": null, "scale": {"type": "log", "domain": [12.97, 62.76], "nice": false}},
  "y2": {"field": "p2"}
 }},
{"data": {"name": "boxes"}, "mark": {"type": "text", "font": "Liberation Sans", "fontWeight": "bold", "fontSize": 15, "color": "#1a1a1a", "align": "center", "baseline": "middle"},
 "encoding": {
  "x": {"field": "td", "type": "temporal", "title": null, "scale": {"type": "utc", "domain": [{"year":2011,"month":1,"date":14,"hours":7,"minutes":12,"utc":true},{"year":2015,"month":2,"date":16,"hours":7,"minutes":12,"utc":true}]}},
  "y": {"field": "tp", "type": "quantitative", "title": null, "scale": {"type": "log", "domain": [12.97, 62.76], "nice": false}},
  "text": {"field": "t"}
 }},
{"data": {"name": "ptag"}, "mark": {"type": "rect", "fill": "#C9C9F2", "stroke": "#5C5C99", "strokeWidth": 1},
 "encoding": {
  "x": {"field": "d1", "type": "temporal", "title": null, "scale": {"type": "utc", "domain": [{"year":2011,"month":1,"date":14,"hours":7,"minutes":12,"utc":true},{"year":2015,"month":2,"date":16,"hours":7,"minutes":12,"utc":true}]}},
  "x2": {"field": "d2"},
  "y": {"field": "p1", "type": "quantitative", "title": null, "scale": {"type": "log", "domain": [12.97, 62.76], "nice": false}},
  "y2": {"field": "p2"}
 }},
{"data": {"name": "ptag"}, "mark": {"type": "text", "font": "Liberation Sans", "fontSize": 12, "color": "#222222", "align": "center", "baseline": "middle"},
 "encoding": {
  "x": {"field": "td", "type": "temporal", "title": null, "scale": {"type": "utc", "domain": [{"year":2011,"month":1,"date":14,"hours":7,"minutes":12,"utc":true},{"year":2015,"month":2,"date":16,"hours":7,"minutes":12,"utc":true}]}},
  "y": {"field": "tp", "type": "quantitative", "title": null, "scale": {"type": "log", "domain": [12.97, 62.76], "nice": false}},
  "text": {"field": "t"}
 }},
{"data": {"name": "logo"}, "mark": {"type": "point", "shape": "circle", "filled": false, "size": 3200, "stroke": "#d4d4d4", "strokeWidth": 5, "strokeDash": [0.1, 11], "strokeCap": "round", "opacity": 1},
 "encoding": {
  "x": {"field": "d", "type": "temporal", "title": null, "scale": {"type": "utc", "domain": [{"year":2011,"month":1,"date":14,"hours":7,"minutes":12,"utc":true},{"year":2015,"month":2,"date":16,"hours":7,"minutes":12,"utc":true}]}},
  "y": {"field": "p", "type": "quantitative", "title": null, "scale": {"type": "log", "domain": [12.97, 62.76], "nice": false}}
 }},
{"data": {"name": "logo"}, "mark": {"type": "point", "shape": "circle", "filled": false, "size": 620, "stroke": "#d4d4d4", "strokeWidth": 2.5, "strokeDash": [0.1, 4.5], "strokeCap": "round", "opacity": 1},
 "encoding": {
  "x": {"field": "d", "type": "temporal", "title": null, "scale": {"type": "utc", "domain": [{"year":2011,"month":1,"date":14,"hours":7,"minutes":12,"utc":true},{"year":2015,"month":2,"date":16,"hours":7,"minutes":12,"utc":true}]}},
  "y": {"field": "p", "type": "quantitative", "title": null, "scale": {"type": "log", "domain": [12.97, 62.76], "nice": false}}
 }},
{"data": {"name": "logo"}, "mark": {"type": "point", "shape": "circle", "filled": false, "size": 220, "stroke": "#d4d4d4", "strokeWidth": 2.5, "strokeDash": [0.1, 4], "strokeCap": "round", "opacity": 1},
 "encoding": {
  "x": {"field": "d", "type": "temporal", "title": null, "scale": {"type": "utc", "domain": [{"year":2011,"month":1,"date":14,"hours":7,"minutes":12,"utc":true},{"year":2015,"month":2,"date":16,"hours":7,"minutes":12,"utc":true}]}},
  "y": {"field": "p", "type": "quantitative", "title": null, "scale": {"type": "log", "domain": [12.97, 62.76], "nice": false}}
 }},
{"data": {"name": "wm"}, "mark": {"type": "text", "font": "DejaVu Sans Condensed, Liberation Sans Narrow, Roboto, sans-serif", "fontWeight": "bold", "fontSize": 61, "color": "#b4b4b4", "opacity": 0.65, "align": "center", "baseline": "middle"},
 "encoding": {
  "x": {"field": "d", "type": "temporal", "title": null, "scale": {"type": "utc", "domain": [{"year":2011,"month":1,"date":14,"hours":7,"minutes":12,"utc":true},{"year":2015,"month":2,"date":16,"hours":7,"minutes":12,"utc":true}]}},
  "y": {"field": "p", "type": "quantitative", "title": null, "scale": {"type": "log", "domain": [12.97, 62.76], "nice": false}},
  "text": {"field": "t"}
 }}
]
},
{
"width": 1494,
"height": 88,
"title": {"text": "MACD(C,EMA,13,21,8)", "anchor": "start", "frame": "group", "offset": -16, "dx": 5, "fontSize": 11, "fontWeight": "normal", "color": "#222222", "font": "Liberation Sans"},
"layer": [
{"data": {"name": "candles"}, "mark": {"type": "bar", "width": 5, "color": "#6F9FD0"},
 "encoding": {
  "x": {"field": "d", "type": "temporal", "title": null, "axis": null, "scale": {"type": "utc", "domain": [{"year":2011,"month":1,"date":14,"hours":7,"minutes":12,"utc":true},{"year":2015,"month":2,"date":16,"hours":7,"minutes":12,"utc":true}]}},
  "y": {"field": "m", "type": "quantitative", "title": null, "scale": {"domain": [-1.76, 3.41], "nice": false, "zero": false},
   "axis": {"orient": "right", "title": null, "values": [-1.5,-1,-0.5,0,0.5,1,1.5,2,2.5,3], "labelExpr": "datum.value == 2 ? '2.000' : ''", "tickSize": 4, "labelPadding": 3, "labelFontSize": 12, "labelColor": "#222222", "labelOverlap": false}},
  "y2": {"datum": 0}
 }},
{"data": {"name": "mw"}, "mark": {"type": "rule", "color": "#000000", "strokeDash": [3, 3], "strokeWidth": 1},
 "encoding": {"y": {"datum": 0, "type": "quantitative", "title": null, "scale": {"domain": [-1.76, 3.41], "nice": false, "zero": false},
   "axis": {"orient": "right", "title": null, "values": [-1.5,-1,-0.5,0,0.5,1,1.5,2,2.5,3], "labelExpr": "datum.value == 2 ? '2.000' : ''", "tickSize": 4, "labelPadding": 3, "labelFontSize": 12, "labelColor": "#222222", "labelOverlap": false}}}},
{"data": {"name": "macd"}, "transform": [{"filter": "datum.s == 'm'"}], "mark": {"type": "line", "color": "#cccccc", "strokeWidth": 4, "interpolate": "monotone"},
 "encoding": {
  "x": {"field": "d", "type": "temporal", "title": null, "axis": null, "scale": {"type": "utc", "domain": [{"year":2011,"month":1,"date":14,"hours":7,"minutes":12,"utc":true},{"year":2015,"month":2,"date":16,"hours":7,"minutes":12,"utc":true}]}},
  "y": {"field": "v", "type": "quantitative", "title": null, "scale": {"domain": [-1.76, 3.41], "nice": false, "zero": false},
   "axis": {"orient": "right", "title": null, "values": [-1.5,-1,-0.5,0,0.5,1,1.5,2,2.5,3], "labelExpr": "datum.value == 2 ? '2.000' : ''", "tickSize": 4, "labelPadding": 3, "labelFontSize": 12, "labelColor": "#222222", "labelOverlap": false}}
 }},
{"data": {"name": "macd"}, "transform": [{"filter": "datum.s == 's'"}], "mark": {"type": "line", "color": "#9B1515", "strokeWidth": 1.2, "interpolate": "monotone"},
 "encoding": {
  "x": {"field": "d", "type": "temporal", "title": null, "axis": null, "scale": {"type": "utc", "domain": [{"year":2011,"month":1,"date":14,"hours":7,"minutes":12,"utc":true},{"year":2015,"month":2,"date":16,"hours":7,"minutes":12,"utc":true}]}},
  "y": {"field": "v", "type": "quantitative", "title": null, "scale": {"domain": [-1.76, 3.41], "nice": false, "zero": false},
   "axis": {"orient": "right", "title": null, "values": [-1.5,-1,-0.5,0,0.5,1,1.5,2,2.5,3], "labelExpr": "datum.value == 2 ? '2.000' : ''", "tickSize": 4, "labelPadding": 3, "labelFontSize": 12, "labelColor": "#222222", "labelOverlap": false}}
 }},
{"data": {"name": "macd"}, "transform": [{"filter": "datum.s == 'm'"}], "mark": {"type": "line", "color": "#000000", "strokeWidth": 1.8, "interpolate": "monotone"},
 "encoding": {
  "x": {"field": "d", "type": "temporal", "title": null, "axis": null, "scale": {"type": "utc", "domain": [{"year":2011,"month":1,"date":14,"hours":7,"minutes":12,"utc":true},{"year":2015,"month":2,"date":16,"hours":7,"minutes":12,"utc":true}]}},
  "y": {"field": "v", "type": "quantitative", "title": null, "scale": {"domain": [-1.76, 3.41], "nice": false, "zero": false},
   "axis": {"orient": "right", "title": null, "values": [-1.5,-1,-0.5,0,0.5,1,1.5,2,2.5,3], "labelExpr": "datum.value == 2 ? '2.000' : ''", "tickSize": 4, "labelPadding": 3, "labelFontSize": 12, "labelColor": "#222222", "labelOverlap": false}}
 }},
{"data": {"name": "mw"}, "mark": {"type": "rule", "color": "#8a8a8a", "strokeWidth": 3},
 "encoding": {"y": {"datum": 3.41, "type": "quantitative", "title": null, "scale": {"domain": [-1.76, 3.41], "nice": false, "zero": false},
   "axis": {"orient": "right", "title": null, "values": [-1.5,-1,-0.5,0,0.5,1,1.5,2,2.5,3], "labelExpr": "datum.value == 2 ? '2.000' : ''", "tickSize": 4, "labelPadding": 3, "labelFontSize": 12, "labelColor": "#222222", "labelOverlap": false}}}},
{"data": {"name": "mtag"}, "mark": {"type": "rect", "fill": "#ffffff", "stroke": "#000000", "strokeWidth": 1},
 "encoding": {
  "x": {"field": "d1", "type": "temporal", "title": null, "axis": null, "scale": {"type": "utc", "domain": [{"year":2011,"month":1,"date":14,"hours":7,"minutes":12,"utc":true},{"year":2015,"month":2,"date":16,"hours":7,"minutes":12,"utc":true}]}},
  "x2": {"field": "d2"},
  "y": {"field": "v1", "type": "quantitative", "title": null, "scale": {"domain": [-1.76, 3.41], "nice": false, "zero": false},
   "axis": {"orient": "right", "title": null, "values": [-1.5,-1,-0.5,0,0.5,1,1.5,2,2.5,3], "labelExpr": "datum.value == 2 ? '2.000' : ''", "tickSize": 4, "labelPadding": 3, "labelFontSize": 12, "labelColor": "#222222", "labelOverlap": false}},
  "y2": {"field": "v2"}
 }},
{"data": {"name": "mtag"}, "mark": {"type": "text", "font": "Liberation Sans", "fontSize": 12, "color": "#222222", "align": "center", "baseline": "middle"},
 "encoding": {
  "x": {"field": "td", "type": "temporal", "title": null, "axis": null, "scale": {"type": "utc", "domain": [{"year":2011,"month":1,"date":14,"hours":7,"minutes":12,"utc":true},{"year":2015,"month":2,"date":16,"hours":7,"minutes":12,"utc":true}]}},
  "y": {"field": "tv", "type": "quantitative", "title": null, "scale": {"domain": [-1.76, 3.41], "nice": false, "zero": false},
   "axis": {"orient": "right", "title": null, "values": [-1.5,-1,-0.5,0,0.5,1,1.5,2,2.5,3], "labelExpr": "datum.value == 2 ? '2.000' : ''", "tickSize": 4, "labelPadding": 3, "labelFontSize": 12, "labelColor": "#222222", "labelOverlap": false}},
  "text": {"field": "t"}
 }},
{"data": {"name": "mw"}, "mark": {"type": "text", "font": "Liberation Sans", "fontSize": 10, "color": "#666666", "align": "center", "baseline": "middle"},
 "encoding": {
  "x": {"field": "d", "type": "temporal", "title": null, "axis": null, "scale": {"type": "utc", "domain": [{"year":2011,"month":1,"date":14,"hours":7,"minutes":12,"utc":true},{"year":2015,"month":2,"date":16,"hours":7,"minutes":12,"utc":true}]}},
  "y": {"field": "v", "type": "quantitative", "title": null, "scale": {"domain": [-1.76, 3.41], "nice": false, "zero": false},
   "axis": {"orient": "right", "title": null, "values": [-1.5,-1,-0.5,0,0.5,1,1.5,2,2.5,3], "labelExpr": "datum.value == 2 ? '2.000' : ''", "tickSize": 4, "labelPadding": 3, "labelFontSize": 12, "labelColor": "#222222", "labelOverlap": false}},
  "text": {"field": "t"}
 }}
]
}
]
}
